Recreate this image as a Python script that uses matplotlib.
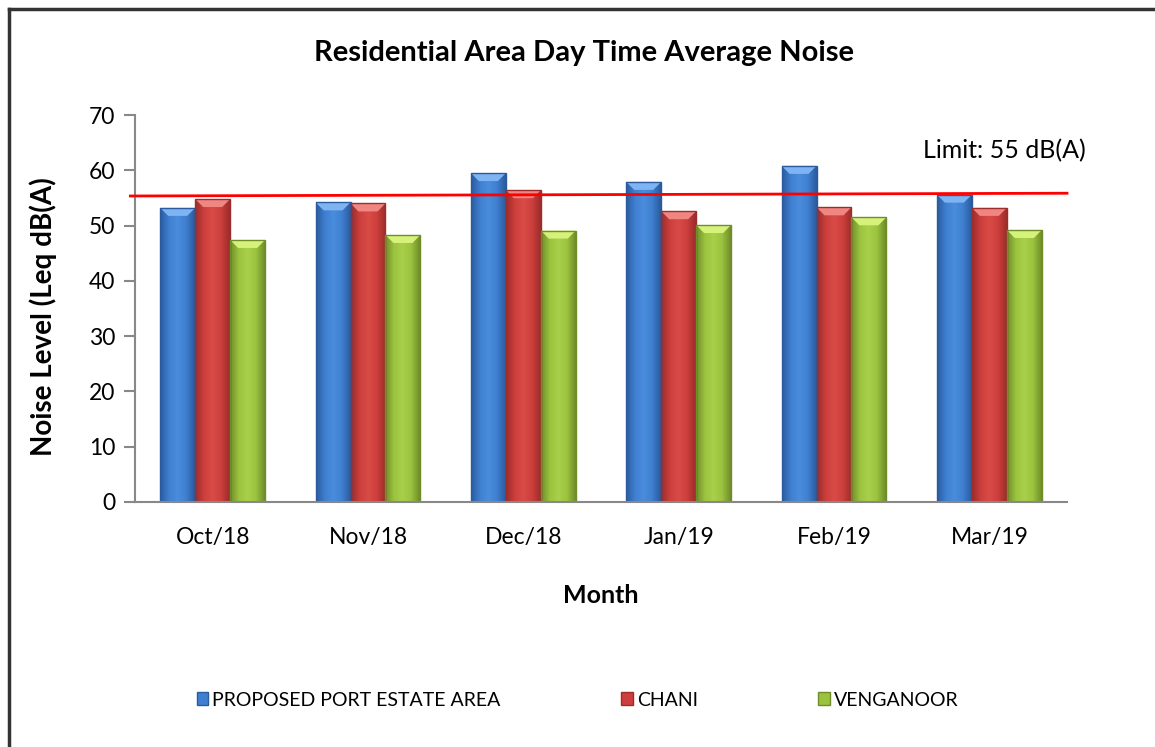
import numpy as np
import matplotlib
matplotlib.use("Agg")
import matplotlib.pyplot as plt
from matplotlib.patches import Polygon, Rectangle
from matplotlib.colors import LinearSegmentedColormap

months = ["Oct/18", "Nov/18", "Dec/18", "Jan/19", "Feb/19", "Mar/19"]
series_names = ["PROPOSED PORT ESTATE AREA", "CHANI", "VENGANOOR"]
port_estate = [53.2, 54.2, 59.5, 57.9, 60.8, 55.6]
chani = [54.8, 54.0, 56.4, 52.6, 53.3, 53.2]
venganoor = [47.4, 48.3, 49.1, 50.1, 51.5, 49.2]
limit_start = 55.35
limit_end = 55.85
limit_label = "Limit: 55 dB(A)"
y_ticks = [0, 10, 20, 30, 40, 50, 60, 70]

FONT = ["Lato", "DejaVu Sans"]
plt.rcParams["font.family"] = FONT

# colours: (dark edge, mid, light centre, top bevel)
palettes = [
    ("#2b5b9e", "#3f7fd0", "#4a8ddc", "#7fb4f2"),
    ("#9c2d2b", "#cc3f3c", "#d84b47", "#f08682"),
    ("#6f8e2a", "#9bc33f", "#a9d04a", "#d6f27a"),
]

fig = plt.figure(figsize=(11.55, 7.47), dpi=100)
ax = fig.add_axes([135 / 1155, 1 - 502 / 747, (1067 - 135) / 1155, (502 - 115) / 747])

x = np.arange(len(months))
width = 0.225
all_series = [port_estate, chani, venganoor]
ax.set_xlim(-0.5, len(months) - 0.5)
ax.set_ylim(0, 70)
fig.canvas.draw()

# pixel -> data conversion for the bevel height
px_per_unit = (ax.transData.transform((0, 1))[1] - ax.transData.transform((0, 0))[1])
bevel = 8 / px_per_unit
xpx = (ax.transData.transform((1, 0))[0] - ax.transData.transform((0, 0))[0])
inset = 8 / xpx

for i, (vals, pal) in enumerate(zip(all_series, palettes)):
    dark, mid, light, top = pal
    cmap = LinearSegmentedColormap.from_list("g%d" % i, [dark, mid, light, mid, dark])
    grad = np.linspace(0, 1, 64).reshape(1, -1)
    bars = ax.bar(x + (i - 1) * width, vals, width, color=mid, edgecolor="none",
                  zorder=2, label=series_names[i])
    for b in bars:
        x0, w, h = b.get_x(), b.get_width(), b.get_height()
        # shadow
        ax.add_patch(Rectangle((x0 + 0.006, 0), w, h - 0.15, color="#000000", alpha=0.12,
                               zorder=1.5, lw=0))
        im = ax.imshow(grad, cmap=cmap, extent=(x0, x0 + w, 0, h), aspect="auto",
                       zorder=2.1, interpolation="bilinear")
        im.set_clip_path(b)
        ax.add_patch(Polygon([(x0, h), (x0 + w, h), (x0 + w - inset, h - bevel),
                              (x0 + inset, h - bevel)], closed=True, color=top,
                             zorder=2.2, lw=0))
        ax.add_patch(Rectangle((x0, 0), w, h, fill=False, edgecolor=dark, lw=1.0,
                               zorder=2.3))

ax.set_xlim(-0.5, len(months) - 0.5)
ax.set_ylim(0, 70)

# limit line
ax.plot([-0.53, len(months) - 0.5], [limit_start, limit_end], color="#ff0000", lw=2,
        zorder=3, clip_on=False)
ax.text(0.845, 0.908, limit_label, transform=ax.transAxes, fontsize=18, color="black",
        ha="left", va="center")

for s in ["top", "right"]:
    ax.spines[s].set_visible(False)
for s in ["left", "bottom"]:
    ax.spines[s].set_color("#888888")
    ax.spines[s].set_linewidth(1.5)
ax.spines["bottom"].set_zorder(4)

ax.set_yticks(y_ticks)
ax.set_xticks(x)
ax.set_xticklabels(months)
ax.tick_params(axis="y", length=8, width=1.5, color="#888888", labelsize=16.5, pad=6)
ax.tick_params(axis="x", length=0, labelsize=16.5, pad=18)

ax.set_ylabel("Noise Level (Leq dB(A)", fontsize=20, fontweight="bold")
ax.yaxis.set_label_coords(-0.084, 0.48)
ax.set_xlabel("Month", fontsize=18, fontweight="bold", labelpad=26)
fig.text(0.506, 1 - 53 / 747, "Residential Area Day Time Average Noise", ha="center",
         va="center", fontsize=21, fontweight="bold")

handles = [Rectangle((0, 0), 1, 1, facecolor=p[1], edgecolor=p[0]) for p in palettes]
fig.legend(handles, series_names, loc="center", bbox_to_anchor=(0.5, 1 - 700 / 747),
           ncol=3, frameon=False, fontsize=14, handlelength=0.6, handleheight=0.6,
           handletextpad=0.2, columnspacing=6.2)

# chart border (top and left only, as in the reference)
fig.add_artist(plt.Line2D([9 / 1155, 9 / 1155], [0, 1 - 9 / 747], color="#333333", lw=2.5))
fig.add_artist(plt.Line2D([9 / 1155, 1], [1 - 9 / 747, 1 - 9 / 747], color="#333333", lw=2.5))

fig.savefig("out.png", dpi=100)
